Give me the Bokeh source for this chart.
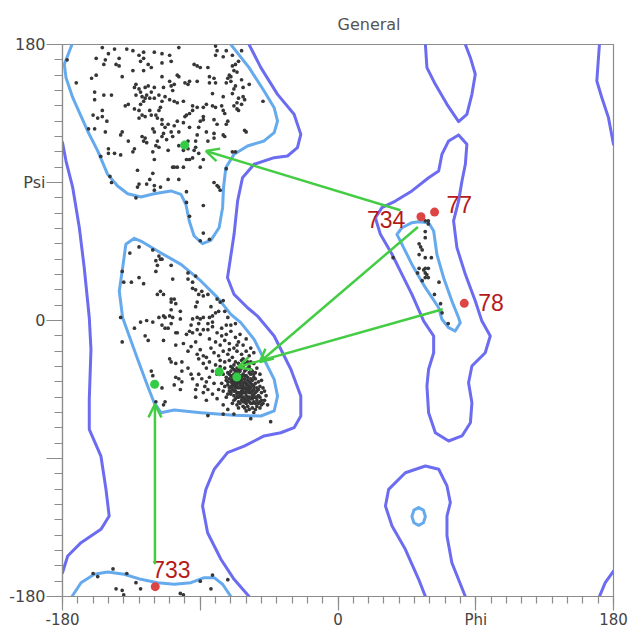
from bokeh.plotting import figure
from bokeh.models import Range1d, FixedTicker, Arrow, OpenHead, ColumnDataSource
from bokeh.core.properties import value
from bokeh.embed import file_html
from bokeh.resources import INLINE

# ---------------- axis ticks ----------------
major_ticks = [-180, -90, 0, 90, 180]
minor_ticks = list(range(-180, 181, 10))
x_tick_labels = {-180: "-180", -90: "", 0: "0", 90: "Phi", 180: "180"}
y_tick_labels = {-180: "-180", -90: "", 0: "0", 90: "Psi", 180: "180"}

# ---------------- contours (phi, psi) ----------------
allowed_B_left = [(-180, 116), (-177.7, 104), (-173.3, 86.6), (-169, 60.5), (-165.8, 34.4), (-162.5, 1.8),
                  (-161.4, -18.8), (-162.5, -51.4), (-162.5, -71), (-154.9, -88.4), (-151.6, -110.1),
                  (-149.5, -127.5), (-154.9, -136.2), (-167.9, -144.9), (-176.6, -153.6), (-180, -164.5)]
allowed_B_right_top = [(170.8, 180), (169.1, 156.2), (172.4, 145.3), (176.7, 132.3), (180, 114.9)]
allowed_B_right_bottom = [(170.8, -180), (174.6, -171), (180, -163.4)]
allowed_C = [(-58.1, 180), (-50.4, 164.9), (-39.5, 147.5), (-28.7, 134.5), (-24.3, 121.4), (-26.5, 112.7),
             (-33, 107.3), (-41.7, 106.2), (-54.8, 101.9), (-62.4, 93.1), (-65.6, 77.9), (-67.9, 56.2),
             (-72.2, 27.9), (-67.9, 17), (-59.1, 8.3), (-52.6, 2.9), (-41.7, -10.1), (-30.8, -31.8),
             (-24.3, -49.3), (-24.3, -62.3), (-28.7, -69.9), (-37.4, -73.2), (-48.3, -75.3), (-61.3, -81.9),
             (-72.2, -86.2), (-80.9, -97), (-86.3, -110.1), (-88.5, -121), (-85.2, -138.4), (-76.5, -155.7),
             (-67.9, -168.8), (-58.1, -180)]
allowed_E_top = [(57.1, 180), (58.1, 164.9), (63.6, 154), (71.2, 141), (78.8, 129.7), (84.2, 134.5),
                 (87.5, 147.5), (89.7, 160.6), (86.5, 171.4), (83.2, 180)]
allowed_E_bottom = [(57.1, -180), (52.7, -168.8), (44, -149.2), (35.3, -134), (31, -121), (33.1, -110.1),
                    (44, -99.3), (57.1, -94.9), (65.8, -97), (71.2, -107.9), (73.4, -118.8), (71.2, -127.5),
                    (71.2, -140.6), (74.4, -158), (83.2, -180)]
allowed_F = [(78.8, 121), (84.2, 114.9), (83.2, 101.9), (81, 91), (78.8, 78), (75.5, 65), (77.7, 47.5),
             (83.2, 30.1), (89.7, 12.7), (94, -0.4), (99.5, -10.1), (96.2, -21), (87.5, -29.7),
             (85.3, -40.6), (87.5, -53.6), (86.5, -66.7), (81, -75.3), (72.3, -78.6), (63.6, -73.2),
             (59.2, -60.1), (58.1, -42.7), (59.2, -31.8), (62.5, -21), (62.5, -10.1), (56, -0.4),
             (48.3, 17), (41.8, 30.1), (35.3, 43.2), (27.7, 56.2), (24.4, 67), (28.7, 73.6), (37.5, 77.9),
             (48.3, 84.5), (59.2, 93.1), (65.8, 97.5), (67.9, 108.4), (72.3, 117.1), (78.8, 121)]
favoured_A_top = [(-173.8, 180), (-178.8, 167.1), (-177.7, 158.3), (-173.3, 145.3), (-163.6, 123.6),
                  (-157, 110.6), (-150.5, 95.3), (-144, 87.7), (-137.4, 82.7), (-128.8, 80.5), (-120.1, 82.7),
                  (-109.2, 84.5), (-102.6, 82.3), (-99.4, 75.8), (-97.2, 64.9), (-94, 55.1), (-88.5, 50.1),
                  (-83.1, 52.3), (-77.7, 60.5), (-75.4, 73.6), (-74.8, 86.6), (-73.3, 99.6), (-67.9, 108.4),
                  (-59.1, 113.8), (-48.3, 117.1), (-41.7, 122.5), (-39.5, 130.1), (-41.7, 138.8),
                  (-48.3, 149.7), (-58.1, 164.9), (-70, 180)]
favoured_A_bottom = [(-173.8, -180), (-167.9, -171), (-159.2, -165.5), (-150.5, -164), (-139.7, -165.5),
                     (-128.8, -168.8), (-117.9, -171), (-107, -172), (-96.1, -171), (-87.4, -167.7),
                     (-80.9, -167.7), (-75.4, -172), (-70, -180)]
favoured_D = [(-133.1, 53.6), (-138.6, 49.7), (-140.7, 34.4), (-142.9, 19.2), (-140.7, 1.8), (-136.4, -10.1),
              (-130.9, -25.3), (-124.4, -42.7), (-120.1, -53.6), (-115.7, -60.1), (-107, -58.4),
              (-89.6, -60.1), (-67.9, -61.8), (-50.4, -62.3), (-41.7, -59), (-39.5, -49.3), (-41.7, -38.4),
              (-48.3, -25.3), (-54.8, -12.3), (-63.5, -1.4), (-70, 4), (-78.7, 14.9), (-89.6, 25.8),
              (-102.6, 36.6), (-117.9, 45.3), (-128.8, 51.8), (-133.1, 53.6)]
favoured_G = [(52.7, 64.4), (59.2, 63.8), (62.5, 58.4), (64.6, 43.2), (69, 27.9), (74.4, 12.7), (78.8, 1.8),
              (79.9, -1.4), (76.6, -6.9), (72.3, -4.7), (67.9, 0.8), (65.8, 8.3), (57.1, 21.4), (48.3, 36.6),
              (41.8, 49.7), (38.5, 56.2), (41.8, 60.5), (48.3, 63.8), (52.7, 64.4)]
favoured_H = [(52.7, -122), (55.8, -123.7), (57.1, -127.8), (55.8, -131.9), (52.7, -133.6), (49.6, -131.9),
              (48.3, -127.8), (49.6, -123.7), (52.7, -122)]

allowed_contours = [allowed_B_left, allowed_B_right_top, allowed_B_right_bottom, allowed_C,
                    allowed_E_top, allowed_E_bottom, allowed_F]
favoured_contours = [favoured_A_top, favoured_A_bottom, favoured_D, favoured_G, favoured_H]

# ---------------- residues (phi, psi) ----------------
beta_points = [
    (-177, 170), (-171, 155),
    (-154, 178), (-146, 177), (-138, 177), (-150, 174), (-134, 176), (-130, 173), (-127, 175), (-127, 171),
    (-120, 175), (-115, 174), (-110, 173), (-158, 171), (-152, 170), (-153, 167), (-143, 171), (-145, 167),
    (-143, 166), (-129, 169), (-124, 167), (-122, 165), (-115, 168), (-109, 169), (-161, 158), (-158, 160),
    (-141, 159), (-134, 163), (-127, 163), (-115, 159), (-114, 152), (-110, 156), (-109, 153), (-132, 154),
    (-133, 152), (-130, 151), (-129, 149), (-126, 152), (-124, 153), (-122, 149), (-120, 152), (-125, 147),
    (-128, 146), (-126, 145), (-132, 147), (-129, 141), (-127, 143), (-123, 145), (-120, 145), (-117, 147),
    (-115, 143), (-110, 144), (-113, 146), (-159, 149), (-159, 144), (-153, 147), (-148, 147), (-154, 137),
    (-139, 140), (-137, 141), (-133, 138), (-130, 137), (-128, 134), (-130, 132), (-126, 133), (-123, 137),
    (-122, 134), (-119, 134), (-117, 137), (-116, 139), (-118, 132), (-115, 131), (-115, 128), (-113, 126),
    (-111, 128), (-109, 123), (-160, 134), (-157, 132), (-154, 133), (-151, 130), (-163, 125), (-159, 125),
    (-152, 123), (-141, 123), (-142, 121), (-128, 120), (-126, 119), (-127, 117), (-125, 116), (-121, 125),
    (-120, 123), (-115, 120), (-114, 122), (-137, 117), (-118, 117), (-112, 118),
    (-104, 178), (-80, 179), (-79, 176), (-73, 176), (-75, 172), (-80, 173), (-69, 173), (-63, 176),
    (-67, 167), (-65, 169), (-69, 166), (-68, 163), (-66, 162), (-94, 167), (-92, 166), (-90, 165),
    (-85, 165), (-105, 160), (-104, 159), (-107, 154), (-100, 155), (-98, 154), (-97, 156), (-92, 156),
    (-84, 159), (-81, 158), (-84, 155), (-80, 155), (-71, 160), (-72, 158), (-70, 159), (-73, 155),
    (-70, 156), (-63, 157), (-67, 153), (-68, 151), (-62, 152), (-58, 154), (-108, 150), (-82, 148),
    (-75, 146), (-69, 148), (-62, 146), (-65, 145), (-61, 144), (-107, 143), (-105, 142), (-101, 143),
    (-95, 140), (-92, 139), (-88, 139), (-86, 141), (-82, 140), (-80, 139), (-76, 140), (-68, 140),
    (-66, 142), (-63, 141), (-66, 138), (-65, 137), (-75, 137), (-74, 135), (-49, 143), (-99, 134),
    (-97, 135), (-95, 137), (-100, 133), (-88, 133), (-88, 131), (-90, 130), (-105, 130), (-101, 129),
    (-97, 126), (-91, 126), (-81, 131), (-79, 128), (-73, 128), (-75, 121), (-72, 130), (-61, 124),
    (-60, 123), (-107, 127), (-104, 123), (-108, 120), (-92, 121), (-86, 123), (-85, 117), (-81, 122),
    (-81, 119), (-74, 120), (-98, 117), (-93, 117),
    (-150, 112), (-150, 109), (-146, 109), (-142, 108), (-155, 107), (-133, 112), (-134, 110), (-119, 114),
    (-117, 113), (-111, 111), (-121, 110), (-120, 105), (-108, 100), (-131, 98), (-121, 96), (-149, 94),
    (-148, 90), (-123, 92), (-125, 89), (-130, 89), (-131, 87), (-120, 88), (-120, 85), (-116, 87),
    (-111, 92), (-132, 80),
    (-104, 114), (-101, 111), (-98, 112), (-94, 111), (-93, 113), (-91, 109), (-95, 106), (-97, 105),
    (-99, 105), (-88, 105), (-69, 110), (-67, 110), (-107, 100), (-105, 100), (-101, 100), (-90, 100),
    (-73, 99), (-104, 92), (-81, 90), (-79, 88), (-78, 87), (-77, 85), (-99, 84), (-99, 77), (-88, 75),
    (-97, 68), (-88, 57), (-90, 52), (-84, 53),
]
alpha_points = [
    (-136, 44), (-130, 48), (-121, 46), (-117, 42), (-116, 40), (-119, 39), (-115, 40), (-118, 36),
    (-119, 32), (-109, 36), (-141, 32), (-140, 25), (-135, 25), (-130, 28), (-127, 24), (-108, 27),
    (-98, 31), (-98, 27), (-95, 25), (-93, 29), (-95, 21), (-93, 20), (-116, 19), (-118, 17), (-114, 17),
    (-109, 14), (-107, 14), (-109, 12), (-106, 11), (-91, 17), (-89, 19), (-88, 16), (-92, 12), (-93, 9),
    (-109, 7), (-110, 3), (-114, 3), (-117, 2), (-113, 2), (-108, 2), (-103, 6), (-103, 1), (-125, 0),
    (-129, -1), (-121, -1), (-95, 1), (-92, 2), (-88, 2), (-90, 1), (-142, 2), (-96, -3), (-91, -2),
    (-115, -3), (-109, -2),
    (-85, 17), (-79, 14), (-75, 13), (-77, 12), (-83, 9), (-78, 6), (-80, 5), (-74, 6), (-84, 2), (-82, 3),
    (-85, -2), (-82, -1), (-72, 2), (-73, -3), (-70, -3), (-67, -2),
    (-133, -5), (-141, -14), (-126, -10), (-124, -13), (-113, -5), (-111, -5), (-106, -8), (-105, -8),
    (-99, -9), (-97, -7), (-95, -8), (-92, -6), (-90, -9), (-88, -6), (-114, -13), (-106, -16), (-101, -15),
    (-96, -17), (-93, -14), (-90, -19), (-92, -22), (-88, -23), (-98, -20), (-110, -25), (-109, -27),
    (-106, -28), (-102, -27), (-98, -31), (-91, -25), (-88, -28), (-102, -33), (-96, -35), (-95, -38),
    (-91, -35), (-89, -38), (-92, -42), (-93, -45), (-106, -37), (-104, -38), (-102, -40), (-103, -45),
    (-107, -42), (-115, -44), (-122, -33), (-121, -36), (-93, -50), (-113, -53), (-114, -55), (-119, -53),
    (-86, -31), (-86, -40), (-87, -43),
    (-85, -6), (-82, -4), (-79, -8), (-76, -5), (-73, -9), (-70, -7), (-67, -11), (-64, -9), (-84, -12),
    (-80, -14), (-77, -16), (-74, -13), (-71, -15), (-68, -18), (-65, -14), (-62, -16), (-60, -12),
    (-83, -18), (-81, -21), (-78, -23), (-75, -20), (-72, -22), (-69, -24), (-66, -20), (-63, -22),
    (-60, -20), (-57, -18), (-86, -24), (-84, -27), (-80, -29), (-77, -26), (-74, -31), (-58, -23),
    (-55, -21), (-66, -16), (-76, -10), (-82, -33), (-79, -35), (-84, -37), (-81, -41), (-85, -45),
    (-78, -45), (-82, -48), (-79, -51), (-75, -55), (-72, -58), (-86, -52), (-88, -47), (-71, -19),
    (-62, -25),
    (-57, -64), (-44, -66), (-85, -62), (-75, -61), (-68, -61),
]
alpha_core_points = [
    (-70, -30), (-68, -32), (-66, -31), (-64, -33), (-62, -30), (-60, -32), (-58, -30), (-72, -34),
    (-70, -36), (-68, -35), (-66, -34), (-64, -36), (-62, -35), (-60, -36), (-58, -34), (-56, -33),
    (-73, -39), (-71, -38), (-69, -39), (-67, -38), (-65, -40), (-63, -39), (-61, -40), (-59, -39),
    (-57, -38), (-55, -37), (-72, -42), (-70, -43), (-68, -42), (-66, -43), (-64, -42), (-62, -43),
    (-60, -42), (-58, -43), (-56, -42), (-54, -41), (-71, -46), (-69, -45), (-67, -46), (-65, -47),
    (-63, -46), (-61, -47), (-59, -46), (-57, -47), (-55, -45), (-53, -46), (-68, -49), (-66, -50),
    (-64, -49), (-62, -50), (-60, -49), (-58, -50), (-56, -49), (-54, -50), (-52, -49), (-65, -53),
    (-63, -52), (-61, -53), (-59, -52), (-57, -54), (-55, -53), (-53, -52), (-51, -53), (-62, -56),
    (-59, -56), (-56, -57), (-53, -56), (-50, -55), (-48, -52), (-74, -27), (-71, -26), (-67, -27),
    (-63, -26), (-59, -27), (-55, -28), (-53, -31), (-51, -35), (-50, -39), (-49, -44), (-50, -47),
    (-47, -49), (-46, -55), (-55, -60), (-60, -59), (-65, -57), (-69, -54), (-73, -50), (-75, -46),
    (-76, -41), (-75, -35), (-77, -30), (-69, -41), (-67, -44), (-65, -37), (-63, -44), (-61, -38),
    (-59, -44), (-57, -41), (-55, -48), (-66, -48), (-62, -47), (-60, -45), (-64, -40), (-58, -47),
    (-56, -51), (-60, -54), (-70, -48), (-67, -40), (-63, -48),
    (-69, -31), (-67, -33), (-65, -32), (-63, -31), (-61, -33), (-59, -31), (-57, -32), (-71, -35),
    (-69, -37), (-67, -36), (-65, -35), (-63, -37), (-61, -36), (-59, -37), (-57, -35), (-55, -35),
    (-72, -40), (-70, -40), (-68, -40), (-66, -41), (-64, -41), (-62, -41), (-60, -41), (-58, -40),
    (-56, -39), (-54, -38), (-71, -44), (-69, -43), (-67, -42), (-65, -44), (-63, -43), (-61, -44),
    (-59, -42), (-57, -44), (-55, -43), (-53, -44), (-70, -47), (-68, -46), (-66, -47), (-64, -47),
    (-62, -45), (-60, -47), (-58, -45), (-56, -46), (-54, -47), (-52, -45), (-67, -51), (-65, -50),
    (-63, -50), (-61, -51), (-59, -50), (-57, -51), (-55, -50), (-53, -50), (-51, -50), (-64, -54),
    (-62, -53), (-60, -52), (-58, -53), (-56, -54), (-54, -54), (-52, -54), (-50, -52), (-61, -57),
    (-58, -58), (-54, -58), (-51, -57), (-49, -54), (-73, -37), (-74, -43), (-72, -48), (-68, -52),
    (-66, -55), (-70, -33), (-68, -29), (-65, -28), (-61, -28), (-57, -27), (-54, -34), (-52, -40),
    (-51, -43), (-48, -46),
]
left_handed_points = [
    (57, 65), (59, 63), (57, 58), (57, 54), (53, 50), (54, 48), (55, 46), (53, 43), (57, 41), (61, 41),
    (36, 41), (53, 34), (57, 34), (59, 34), (56, 33), (57, 31), (58, 30), (57, 28), (59, 28), (52, 31),
    (55, 26), (66, 25), (63, 17), (67, 11), (68, 5), (59, 65), (72, -2),
]
wrapped_beta_points = [
    (-160, -165), (-157, -167), (-147, -162), (-145, -175), (-141, -176), (-140, -179), (-138, -165),
    (-132, -171), (-129, -175), (-103, -178), (-101, -179), (-90, -170), (-82, -166), (-83, -175),
    (-72, -169),
]

# highlighted residues
red_phi = [-119.4, 54.2, 63.1, 82.5]
red_psi = [-173.6, 67.7, 70.7, 11.2]
red_names = ["733", "734", "77", "78"]
green_phi = [-100.2, -119.8, -77.6, -66.1]
green_psi = [114.4, -41.6, -33.4, -36.9]
arrow_phi_from = [40.8, 52.2, 68.4, -119.6]
arrow_psi_from = [71.9, 61.0, 7.3, -159.0]
arrow_phi_to = [-86.3, -51.1, -65.4, -119.6]
arrow_psi_to = [110.5, -27.1, -30.3, -54.7]

# label offsets in screen pixels (style)
label_dx = [-3, -54, 12, 14]
label_dy = [-17, 3, -8, -1]

# ---------------- figure ----------------
p = figure(width=637, height=632, x_range=Range1d(-180, 180), y_range=Range1d(-180, 180),
           output_backend="svg", toolbar_location=None,
           min_border_left=62, min_border_right=24, min_border_top=44, min_border_bottom=36,
           title="General")
p.title.align = "left"
p.title.offset = 275
p.title.standoff = 21
p.title.text_font = "DejaVu Sans"
p.title.text_font_size = "16px"
p.title.text_font_style = "normal"
p.title.text_color = "#555555"
p.grid.visible = False
p.outline_line_color = "#8c8c8c"
p.outline_line_width = 1.2
p.background_fill_color = "white"
p.border_fill_color = "white"

for ax, labels in ((p.xaxis[0], x_tick_labels), (p.yaxis[0], y_tick_labels)):
    ax.ticker = FixedTicker(ticks=major_ticks, minor_ticks=minor_ticks)
    ax.major_label_overrides = labels
    ax.axis_line_color = "#8c8c8c"
    ax.axis_line_width = 1.2
    ax.major_tick_line_color = "#8c8c8c"
    ax.minor_tick_line_color = "#8c8c8c"
    ax.major_tick_line_width = 1.2
    ax.minor_tick_line_width = 1.2
    ax.major_tick_in = 0
    ax.minor_tick_in = 0
    ax.major_label_text_font = "DejaVu Sans"
    ax.major_label_text_color = "#444444"
    ax.major_label_text_font_size = "16px"

p.xaxis[0].major_tick_out = 14
p.xaxis[0].minor_tick_out = 7
p.xaxis[0].major_label_standoff = 0
p.xaxis[0].major_label_text_font_size = "15px"
p.yaxis[0].major_tick_out = 16
p.yaxis[0].minor_tick_out = 8
p.yaxis[0].major_label_standoff = 1

# contours
p.multi_line(xs=[[pt[0] for pt in c] for c in allowed_contours],
             ys=[[pt[1] for pt in c] for c in allowed_contours],
             line_color="#6c6cf0", line_width=3, line_join="round", line_cap="round")
p.multi_line(xs=[[pt[0] for pt in c] for c in favoured_contours],
             ys=[[pt[1] for pt in c] for c in favoured_contours],
             line_color="#66aaee", line_width=3, line_join="round", line_cap="round")

# residues
all_points = beta_points + alpha_points + alpha_core_points + left_handed_points + wrapped_beta_points
p.scatter([pt[0] for pt in all_points], [pt[1] for pt in all_points], size=3.7,
          fill_color="#363636", line_color=None)

# arrows
arrow_src = ColumnDataSource(dict(x0=arrow_phi_from, y0=arrow_psi_from, x1=arrow_phi_to, y1=arrow_psi_to))
p.add_layout(Arrow(end=OpenHead(size=13, line_color="#44cc44", line_width=2.5),
                   x_start="x0", y_start="y0", x_end="x1", y_end="y1", source=arrow_src,
                   line_color="#44cc44", line_width=2.5))

p.scatter(green_phi, green_psi, size=9, fill_color="#33cc44", line_color=None)
p.scatter(red_phi, red_psi, size=9, fill_color="#dd4444", line_color=None)

lab_src = ColumnDataSource(dict(x=red_phi, y=red_psi, t=red_names, dx=label_dx, dy=label_dy))
p.text(x="x", y="y", text="t", x_offset="dx", y_offset="dy", source=lab_src,
       text_font=value("Liberation Sans"), text_font_size="23px", text_color="#b51a1a",
       text_align="left", text_baseline="middle")

open("out.html", "w").write(file_html(p, INLINE))
